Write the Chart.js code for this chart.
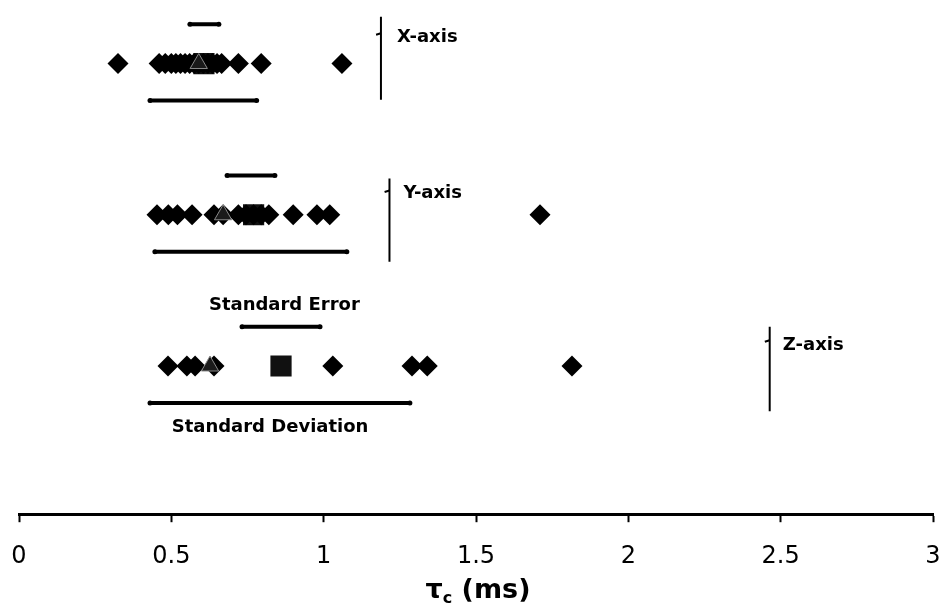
<!DOCTYPE html>
<html>
<head>
<meta charset="utf-8">
<script src="https://cdn.jsdelivr.net/npm/chart.js@4"></script>
<style>
  html, body { margin: 0; padding: 0; background: #fff; }
  #wrap { width: 943px; height: 614px; }
</style>
</head>
<body>
<div id="wrap"><canvas id="myChart"></canvas></div>
<script>
// rows (hidden y scale): X-axis = 3, Y-axis = 2, Z-axis = 1
let rowNames = ["X-axis", "Y-axis", "Z-axis"];
let rowLevels = [3, 2, 1];

// tau_c values (ms)
let xAxisValues = [0.325, 0.46, 0.48, 0.50, 0.515, 0.53, 0.545, 0.56, 0.575, 0.59, 0.605, 0.62, 0.635, 0.65, 0.665, 0.72, 0.795, 1.06];
let yAxisValues = [0.453, 0.49, 0.52, 0.568, 0.64, 0.67, 0.72, 0.745, 0.77, 0.795, 0.82, 0.90, 0.978, 1.02, 1.71];
let zAxisValues = [0.489, 0.551, 0.578, 0.64, 1.03, 1.29, 1.34, 1.815];

let triangleValues = [0.59, 0.67, 0.627];
let squareValues = [0.607, 0.77, 0.86];

let seLow = [0.561, 0.683, 0.732];
let seHigh = [0.656, 0.84, 0.988];
let sdLow = [0.43, 0.446, 0.43];
let sdHigh = [0.78, 1.076, 1.283];

// bracket next to each row label
let bracketX = [1.188, 1.216, 2.464];
let bracketTop = [3.31, 2.24, 1.26];
let bracketBottom = [2.76, 1.69, 0.70];
let bracketTick = [3.20, 2.16, 1.17];

let tickValues = [0, 0.5, 1, 1.5, 2, 2.5, 3];

let ctx = document.getElementById("myChart").getContext("2d");

function rowPoints(values, level) {
  return values.map(v => ({ x: v, y: level }));
}

let diamonds = [].concat(
  rowPoints(xAxisValues, rowLevels[0]),
  rowPoints(yAxisValues, rowLevels[1]),
  rowPoints(zAxisValues, rowLevels[2])
);

let datasets = [
  {
    label: "median",
    data: triangleValues.map((v, i) => ({ x: v, y: rowLevels[i] })),
    pointStyle: "triangle",
    pointRadius: 10,
    backgroundColor: "#1a1a1a",
    borderColor: "#8a8a8a",
    borderWidth: 1,
  },
  {
    label: "values",
    data: diamonds,
    pointStyle: "rectRot",
    pointRadius: 10.5,
    backgroundColor: "#000",
    borderColor: "#000",
    borderWidth: 0,
  },
  {
    label: "mean",
    data: squareValues.map((v, i) => ({ x: v, y: rowLevels[i] })),
    pointStyle: "rect",
    pointRadius: 15,
    backgroundColor: "#111",
    borderColor: "#111",
    borderWidth: 0,
  },
];

// standard error (above the row) and standard deviation (below the row)
rowLevels.forEach((level, i) => {
  datasets.push({
    label: "se" + i,
    data: [{ x: seLow[i], y: level + 0.26 }, { x: seHigh[i], y: level + 0.26 }],
    showLine: true,
    borderColor: "#000",
    borderWidth: 4,
    pointRadius: 2.5,
    pointBackgroundColor: "#000",
    pointBorderWidth: 0,
  });
  datasets.push({
    label: "sd" + i,
    data: [{ x: sdLow[i], y: level - 0.245 }, { x: sdHigh[i], y: level - 0.245 }],
    showLine: true,
    borderColor: "#000",
    borderWidth: 4,
    pointRadius: 2.5,
    pointBackgroundColor: "#000",
    pointBorderWidth: 0,
  });
  datasets.push({
    label: "bracket" + i,
    data: [{ x: bracketX[i], y: bracketTop[i] }, { x: bracketX[i], y: bracketBottom[i] }],
    showLine: true,
    borderColor: "#000",
    borderWidth: 2,
    pointRadius: 0,
  });
  datasets.push({
    label: "bracketTick" + i,
    data: [{ x: bracketX[i] - 0.016, y: bracketTick[i] - 0.01 }, { x: bracketX[i], y: bracketTick[i] }],
    showLine: true,
    borderColor: "#000",
    borderWidth: 2,
    pointRadius: 0,
  });
});

// text placed in data units
let notes = [
  { text: rowNames[0], x: 1.241, y: 3.17, align: "left" },
  { text: rowNames[1], x: 1.262, y: 2.14, align: "left" },
  { text: rowNames[2], x: 2.507, y: 1.138, align: "left" },
  { text: "Standard Error", x: 0.871, y: 1.402, align: "center" },
  { text: "Standard Deviation", x: 0.824, y: 0.595, align: "center" },
];

let notesPlugin = {
  id: "notes",
  afterDatasetsDraw(chart) {
    let c = chart.ctx;
    let xs = chart.scales.x;
    let ys = chart.scales.y;
    c.save();
    c.fillStyle = "#000";
    c.textBaseline = "middle";
    c.font = "bold 18px 'DejaVu Sans'";
    notes.forEach(n => {
      c.textAlign = n.align;
      c.fillText(n.text, xs.getPixelForValue(n.x), ys.getPixelForValue(n.y));
    });
    c.restore();
  },
  afterDraw(chart) {
    // axis title: tau with subscript c
    let c = chart.ctx;
    let cx = 478;
    let cy = 591;
    let big = "bold 27px 'DejaVu Sans'";
    let small = "bold 16px 'DejaVu Sans'";
    let tau = "τ";
    let rest = " (ms)";
    c.save();
    c.fillStyle = "#000";
    c.textBaseline = "middle";
    c.textAlign = "left";
    c.font = small;
    let wc = c.measureText("c").width;
    c.font = big;
    let wt = c.measureText(tau).width;
    let wr = c.measureText(rest).width;
    let x0 = cx - (wt + wc + wr) / 2;
    c.fillText(tau, x0, cy);
    c.font = small;
    c.fillText("c", x0 + wt, cy + 8);
    c.font = big;
    c.fillText(rest, x0 + wt + wc, cy);
    c.restore();
  },
};

let myChart = new Chart(ctx, {
  type: "scatter",
  data: { datasets: datasets },
  options: {
    responsive: true,
    maintainAspectRatio: false,
    animation: false,
    layout: { autoPadding: false, padding: { left: 19, right: 10, top: 0, bottom: 23 } },
    plugins: {
      legend: { display: false },
      tooltip: { enabled: false },
    },
    scales: {
      x: {
        type: "linear",
        min: 0,
        max: 3,
        afterBuildTicks: (axis) => {
          axis.ticks = tickValues.map(v => ({ value: v }));
        },
        afterFit: (axis) => {
          // let the layout padding alone decide the plot's left/right edges
          axis.paddingLeft = 0;
          axis.paddingRight = 0;
        },
        border: { display: true, color: "#000", width: 3 },
        grid: {
          drawOnChartArea: false,
          drawTicks: true,
          tickLength: 8,
          tickWidth: 2,
          tickColor: "#000",
        },
        ticks: {
          color: "#000",
          padding: 20,
          maxRotation: 0,
          font: { family: "'DejaVu Sans'", size: 24 },
          callback: (v) => String(v),
        },
      },
      y: {
        type: "linear",
        display: false,
        min: 0.02,
        max: 3.42,
      },
    },
  },
  plugins: [notesPlugin],
});
</script>
</body>
</html>
